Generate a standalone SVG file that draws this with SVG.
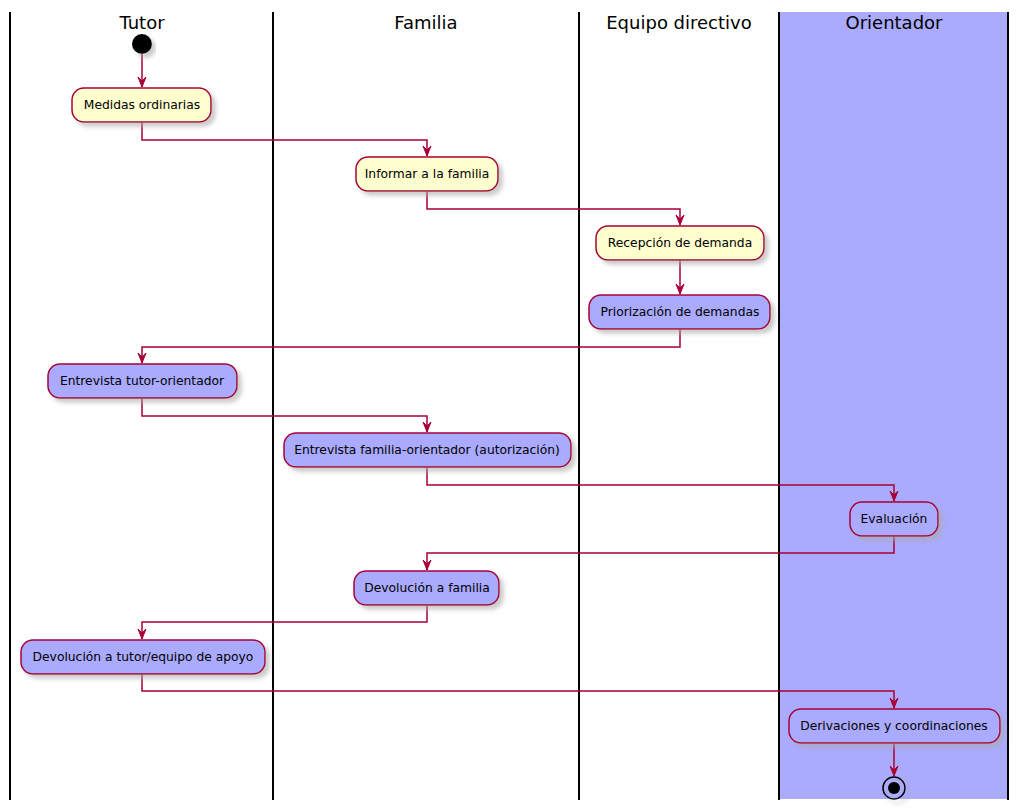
<svg xmlns="http://www.w3.org/2000/svg" width="1019" height="809" viewBox="0 0 1019 809">
<style>
.lane{stroke:#000;stroke-width:2;fill:none}
.title{font-family:"DejaVu Sans",sans-serif;font-size:18px;fill:#000;text-anchor:middle}
.act rect{stroke:#A80036;stroke-width:1.5;filter:url(#sh)}
.y{fill:#FEFECE}
.b{fill:#AAAAFF}
.act text{font-family:"DejaVu Sans",sans-serif;font-size:12.3px;fill:#000;text-anchor:middle}
.c path{stroke:#A80036;stroke-width:1.5;fill:none;marker-end:url(#ah)}
</style>
<defs>
<filter id="sh" x="-10%" y="-20%" width="130%" height="160%">
<feGaussianBlur in="SourceAlpha" stdDeviation="2"/>
<feOffset dx="4" dy="4" result="o"/>
<feColorMatrix in="o" type="matrix" values="0 0 0 0 0.4 0 0 0 0 0.4 0 0 0 0 0.4 0 0 0 0.6 0" result="s"/>
<feMerge><feMergeNode in="s"/><feMergeNode in="SourceGraphic"/></feMerge>
</filter>
<marker id="ah" markerWidth="12" markerHeight="12" refX="10" refY="5" orient="auto" markerUnits="userSpaceOnUse">
<path d="M0,1 L10,5 L0,9 L4,5 Z" fill="#A80036" stroke="#A80036" stroke-width="1"/>
</marker>
</defs>
<rect x="0" y="0" width="1019" height="809" fill="#fff"/>
<rect x="779" y="12" width="229" height="787" fill="#AAAAFF"/>
<g id="lanes">
<line class="lane" x1="10" y1="12" x2="10" y2="800"/>
<line class="lane" x1="273" y1="12" x2="273" y2="800"/>
<line class="lane" x1="579" y1="12" x2="579" y2="800"/>
<line class="lane" x1="779" y1="12" x2="779" y2="800"/>
<line class="lane" x1="1008" y1="12" x2="1008" y2="800"/>
<text class="title" x="142" y="29">Tutor</text>
<text class="title" x="426" y="29">Familia</text>
<text class="title" x="679" y="29">Equipo directivo</text>
<text class="title" x="894" y="29">Orientador</text>
</g>
<g id="connectors" class="c">
<path d="M142,54 V87"/>
<path d="M142,122 V140 H427 V156"/>
<path d="M427,191 V209 H680 V225"/>
<path d="M680,260 V294"/>
<path d="M680,329 V347 H142 V363"/>
<path d="M142,398 V416 H427 V432"/>
<path d="M427,467 V485 H894 V501"/>
<path d="M894,536 V553 H427 V570"/>
<path d="M427,605 V622 H142 V639"/>
<path d="M142,674 V691 H894 V708"/>
<path d="M894,743 V776"/>
</g>
<g id="start"><circle cx="142" cy="44" r="10" fill="#000" filter="url(#sh)"/></g>
<g id="n1" class="act"><rect class="y" x="72" y="88" width="139" height="34" rx="12"/><text x="142" y="109">Medidas ordinarias</text></g>
<g id="n2" class="act"><rect class="y" x="356" y="157" width="142" height="34" rx="12"/><text x="427" y="178">Informar a la familia</text></g>
<g id="n3" class="act"><rect class="y" x="596" y="226" width="168" height="34" rx="12"/><text x="680" y="247">Recepción de demanda</text></g>
<g id="n4" class="act"><rect class="b" x="589" y="295" width="181" height="34" rx="12"/><text x="680" y="316">Priorización de demandas</text></g>
<g id="n5" class="act"><rect class="b" x="48" y="364" width="189" height="34" rx="12"/><text x="142" y="385">Entrevista tutor-orientador</text></g>
<g id="n6" class="act"><rect class="b" x="284" y="433" width="287" height="34" rx="12"/><text x="427" y="454">Entrevista familia-orientador (autorización)</text></g>
<g id="n7" class="act"><rect class="b" x="850" y="502" width="88" height="34" rx="12"/><text x="894" y="523">Evaluación</text></g>
<g id="n8" class="act"><rect class="b" x="354" y="571" width="145" height="34" rx="12"/><text x="427" y="592">Devolución a familia</text></g>
<g id="n9" class="act"><rect class="b" x="21" y="640" width="244" height="34" rx="12"/><text x="143" y="661">Devolución a tutor/equipo de apoyo</text></g>
<g id="n10" class="act"><rect class="b" x="789" y="709" width="211" height="34" rx="12"/><text x="894" y="730">Derivaciones y coordinaciones</text></g>
<g id="end"><circle cx="894" cy="788" r="11" fill="none" stroke="#000" stroke-width="1.5" filter="url(#sh)"/><circle cx="894" cy="788" r="6" fill="#000"/></g>
</svg>
